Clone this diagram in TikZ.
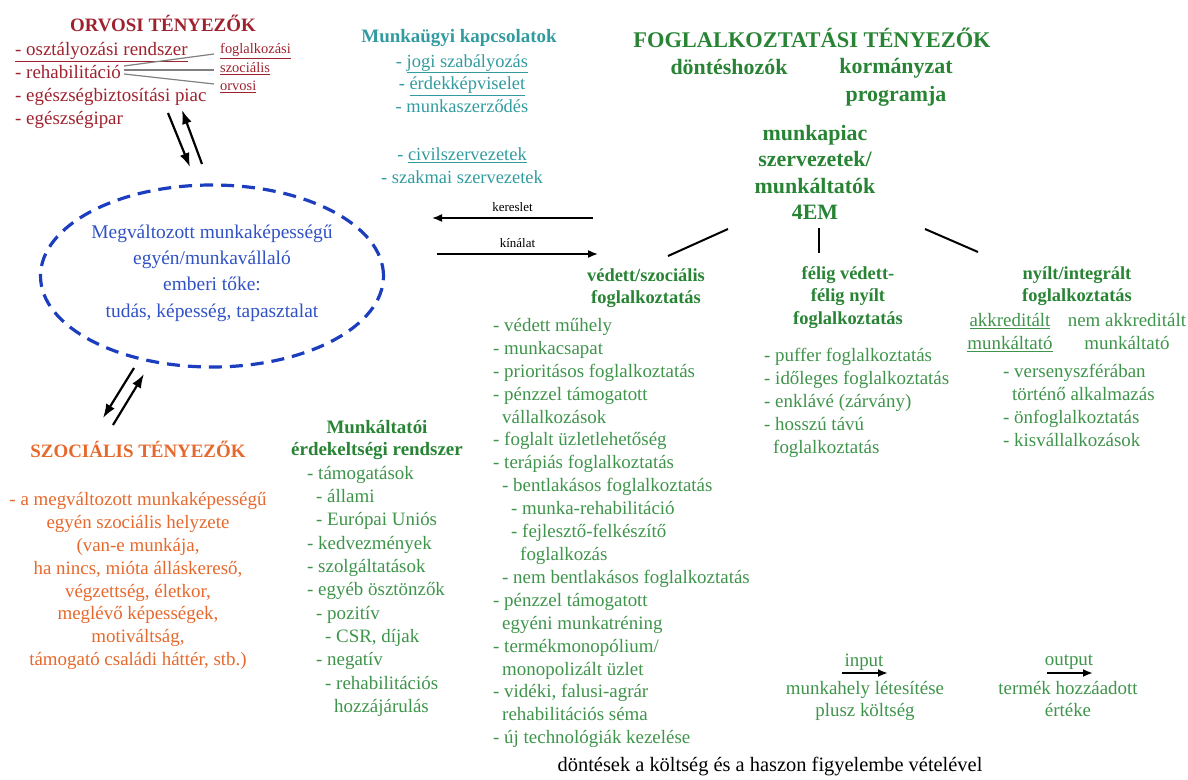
\documentclass[tikz,border=0pt]{standalone}
\usepackage{fontspec}
\setmainfont{Liberation Serif}
\usepackage{tikz}
\usetikzlibrary{shapes.geometric,arrows.meta,positioning}

\definecolor{myred}{RGB}{158,34,46}
\definecolor{myteal}{RGB}{50,155,160}
\definecolor{mygreen}{RGB}{40,132,52}
\definecolor{mylightgreen}{RGB}{62,148,74}
\definecolor{myblue}{RGB}{28,62,190}
\definecolor{mytextblue}{RGB}{48,82,196}
\definecolor{myorange}{RGB}{230,104,44}

\newcommand{\fs}[2]{\rmfamily\fontsize{#1}{#2}\selectfont}
\newcommand{\ind}{\hspace*{9bp}}

\begin{document}
\begin{tikzpicture}[
  x=1bp, y=1bp,
  every node/.style={inner sep=0pt},
  lst/.style={align=left, anchor=north west, font=\fs{19}{23}},
  ctr/.style={align=center, anchor=north},
  hdr/.style={align=center, anchor=north, font=\bfseries\fs{18.5}{22.5}},
  arr/.style={-{Latex[length=14bp,width=10bp]}, line width=2.2bp},
  smallarr/.style={-{Latex[length=10bp,width=8bp]}, line width=2bp},
  fan/.style={draw=gray, line width=1.2bp},
  tie/.style={draw=black, line width=2bp}
]
\useasboundingbox (0,0) rectangle (1188,-780);

% orvosi tenyezok
\node[text=myred, font=\fs{19}{22}\bfseries] (orvtitle) at (163,-23) {ORVOSI TÉNYEZŐK};
\node[lst, text=myred] (orvlist) at (15,-42)
  {\underline{- osztályozási rendszer}\\
   - rehabilitáció\\
   - egészségbiztosítási piac\\
   - egészségipar};
\node[anchor=west, text=myred, font=\fs{14.5}{18}] (lfog) at (220,-51) {\underline{foglalkozási}};
\node[anchor=west, text=myred, font=\fs{14.5}{18}] (lszoc) at (220,-69) {\underline{szociális}};
\node[anchor=west, text=myred, font=\fs{14.5}{18}] (lorv) at (220,-87) {\underline{orvosi}};
\coordinate (rehab) at (124,-70);
\draw[fan] ([yshift=4bp]rehab) -- ([xshift=-6bp,yshift=-3bp]lfog.west);
\draw[fan] (rehab) -- ([xshift=-6bp,yshift=-1bp]lszoc.west);
\draw[fan] ([yshift=-4bp]rehab) -- ([xshift=-6bp,yshift=3bp]lorv.west);

% ember
\node[ellipse, draw=myblue, line width=3.2bp, dash pattern=on 13bp off 8bp,
  minimum width=343bp, minimum height=182bp] (ember) at (212,-276) {};
\node[align=center, text=mytextblue, font=\fs{19.5}{26.5}] (embertxt) at ([yshift=3bp]ember.center)
  {Megváltozott munkaképességű\\
   egyén/munkavállaló\\
   emberi tőke:\\
   tudás, képesség, tapasztalat};

\coordinate (orvA) at (168,-113);
\coordinate (orvB) at (190,-167);
\coordinate (orvC) at (202,-164);
\coordinate (orvD) at (182,-110);
\draw[arr] (orvA) -- (orvB);
\draw[arr] (orvC) -- (orvD);

\coordinate (szocA) at (134,-368);
\coordinate (szocB) at (103,-418);
\coordinate (szocC) at (113,-425);
\coordinate (szocD) at (144,-374);
\draw[arr] (szocA) -- (szocB);
\draw[arr] (szocC) -- (szocD);

% munkaugyi kapcsolatok
\node[text=myteal, font=\fs{19}{22}\bfseries] (munkatitle) at (459,-38) {Munkaügyi kapcsolatok};
\node[ctr, text=myteal, font=\fs{18.5}{23}] (munkalist) at (462,-54)
  {- \underline{jogi szabályozás}\\
   - \underline{érdekképviselet}\\
   - munkaszerződés\\[25bp]
   - \underline{civilszervezetek}\\
   - szakmai szervezetek};

% kereslet / kinalat
\coordinate (keresA) at (593,-218);
\coordinate (keresB) at (432,-218);
\coordinate (kinA) at (437,-254);
\coordinate (kinB) at (598,-254);
\draw[smallarr, line width=1.6bp] (keresA) -- node[above=6bp, font=\fs{13}{15}] (kereslbl) {kereslet} (keresB);
\draw[smallarr, line width=1.6bp] (kinA) -- node[above=6bp, font=\fs{13}{15}] (kinlbl) {kínálat} (kinB);

% foglalkoztatasi tenyezok
\node[text=mygreen, font=\fs{22.5}{27}\bfseries] (fogtitle) at (812,-38) {FOGLALKOZTATÁSI TÉNYEZŐK};
\node[text=mygreen, font=\fs{22}{27}\bfseries] (dontes) at (729,-67) {döntéshozók};
\node[ctr, text=mygreen, font=\fs{22}{28}\bfseries] (korm) at (896,-58) {kormányzat\\programja};
\node[ctr, text=mygreen, font=\fs{22}{26.5}\bfseries] (munkapiac) at (815,-125)
  {munkapiac\\szervezetek/\\munkáltatók\\4EM};

\coordinate (tieL) at (728,-229);
\coordinate (tieM) at (819,-228);
\coordinate (tieR) at (925,-229);
\coordinate (tieLe) at (668,-256);
\coordinate (tieMe) at (819,-253);
\coordinate (tieRe) at (978,-252);
\draw[tie] (tieL) -- (tieLe);
\draw[tie] (tieM) -- (tieMe);
\draw[tie] (tieR) -- (tieRe);

% vedett
\node[hdr, text=mygreen] (vedett) at (646,-268) {védett/szociális\\foglalkoztatás};
\node[lst, text=mylightgreen] (vedlist) at (493,-318)
  {- védett műhely\\
   - munkacsapat\\
   - prioritásos foglalkoztatás\\
   - pénzzel támogatott\\
   \ind vállalkozások\\
   - foglalt üzletlehetőség\\
   - terápiás foglalkoztatás\\
   \ind - bentlakásos foglalkoztatás\\
   \ind\ind - munka-rehabilitáció\\
   \ind\ind - fejlesztő-felkészítő\\
   \ind\ind\ind foglalkozás\\
   \ind - nem bentlakásos foglalkoztatás\\
   - pénzzel támogatott\\
   \ind egyéni munkatréning\\
   - termékmonopólium/\\
   \ind monopolizált üzlet\\
   - vidéki, falusi-agrár\\
   \ind rehabilitációs séma\\
   - új technológiák kezelése};

% felig
\node[hdr, text=mygreen] (felig) at (848,-266) {félig védett-\\félig nyílt\\foglalkoztatás};
\node[lst, text=mylightgreen] (feliglist) at (764,-348)
  {- puffer foglalkoztatás\\
   - időleges foglalkoztatás\\
   - enklávé (zárvány)\\
   - hosszú távú\\
   \ind foglalkoztatás};

% nyilt
\node[hdr, text=mygreen] (nyilt) at (1077,-266) {nyílt/integrált\\foglalkoztatás};
\node[ctr, text=mylightgreen, font=\fs{19}{23.5}] (akkr) at (1010,-313) {\underline{akkreditált}\\\underline{munkáltató}};
\node[ctr, text=mylightgreen, font=\fs{19}{23.5}] (nemakkr) at (1127,-313) {nem akkreditált\\munkáltató};
\node[lst, text=mylightgreen] (nyiltlist) at (1003,-364)
  {- versenyszférában\\
   \ind történő alkalmazás\\
   - önfoglalkoztatás\\
   - kisvállalkozások};

% munkaltatoi erdekeltseg
\node[hdr, text=mygreen, font=\fs{19}{22}\bfseries] (erdek) at (377,-420) {Munkáltatói\\érdekeltségi rendszer};
\node[lst, text=mylightgreen, font=\fs{19}{23.4}] (erdeklist) at (307,-466)
  {- támogatások\\
   \ind - állami\\
   \ind - Európai Uniós\\
   - kedvezmények\\
   - szolgáltatások\\
   - egyéb ösztönzők\\
   \ind - pozitív\\
   \ind\ind - CSR, díjak\\
   \ind - negatív\\
   \ind\ind - rehabilitációs\\
   \ind\ind\ind hozzájárulás};

% szocialis tenyezok
\node[text=myorange, font=\fs{19}{22}\bfseries] (szoctitle) at (138,-449) {SZOCIÁLIS TÉNYEZŐK};
\node[ctr, text=myorange, font=\fs{19}{23}] (szoclist) at (138,-492)
  {- a megváltozott munkaképességű\\
   egyén szociális helyzete\\
   (van-e munkája,\\
   ha nincs, mióta álláskereső,\\
   végzettség, életkor,\\
   meglévő képességek,\\
   motiváltság,\\
   támogató családi háttér, stb.)};

% input / output
\node[text=mylightgreen, font=\fs{19}{22}] (input) at (864,-662) {input};
\coordinate (inA) at (842,-673);
\coordinate (inB) at (888,-673);
\draw[smallarr] (inA) -- (inB);
\node[ctr, text=mylightgreen, font=\fs{19}{22}] (inputtxt) at (865,-681) {munkahely létesítése\\plusz költség};
\node[text=mylightgreen, font=\fs{19}{22}] (output) at (1069,-662) {output};
\coordinate (outA) at (1047,-673);
\coordinate (outB) at (1093,-673);
\draw[smallarr] (outA) -- (outB);
\node[ctr, text=mylightgreen, font=\fs{19}{22}] (outputtxt) at (1068,-681) {termék hozzáadott\\értéke};

\node[font=\fs{20.5}{25}] (dontesek) at (770,-767) {döntések a költség és a haszon figyelembe vételével};
\end{tikzpicture}
\end{document}
